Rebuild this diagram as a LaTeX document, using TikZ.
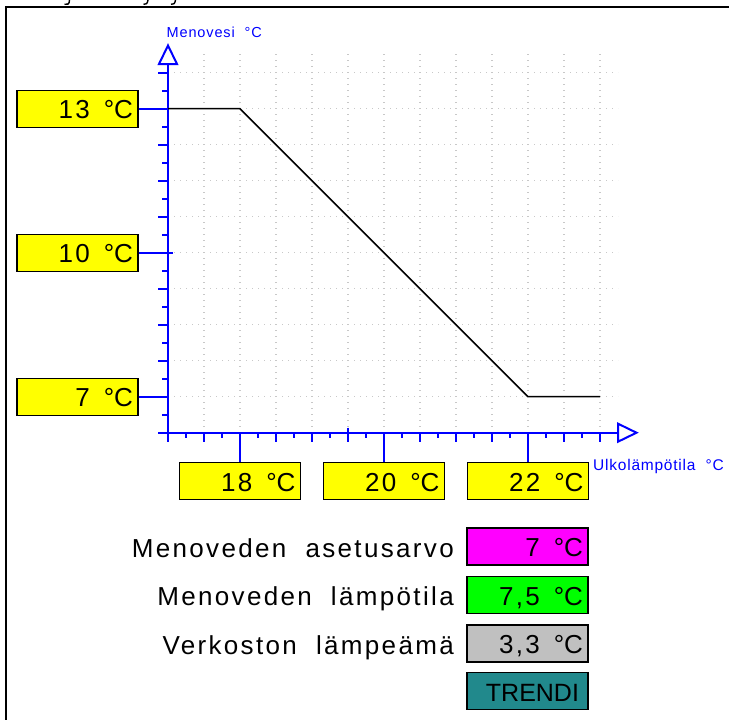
\documentclass[tikz,border=0pt]{standalone}
\usepackage{fontspec}
\setmainfont{Liberation Sans}
\newfontfamily\boxfont[LetterSpace=9,WordSpace=2]{Liberation Sans}
\newfontfamily\plainfont{Liberation Sans}
\newfontfamily\axfont[LetterSpace=6,WordSpace=2]{Liberation Sans}
\newfontfamily\axfontb[LetterSpace=5,WordSpace=2]{Liberation Sans}
\newcommand{\degC}{\hspace{14pt}{\plainfont °C}}
\definecolor{axblue}{RGB}{0,0,255}
\definecolor{yel}{RGB}{255,255,0}
\definecolor{mag}{RGB}{255,0,255}
\definecolor{grn}{RGB}{0,255,0}
\definecolor{gry}{RGB}{192,192,192}
\definecolor{tealbox}{RGB}{33,137,140}
\definecolor{gridc}{RGB}{200,200,200}
\tikzset{
  axisline/.style={draw=axblue, line width=2pt},
  tickline/.style={draw=axblue, line width=1.8pt},
  gridline/.style={draw=gridc, line width=1.3pt, dash pattern=on 1.3pt off 4.7pt},
  curveline/.style={draw=black, line width=1.5pt, line join=miter},
  valbox/.style={draw=black, line width=1.4pt, minimum width=121pt, minimum height=37pt,
    inner xsep=5pt, inner ysep=0pt, text width=111pt, align=right,
    text height=20pt, text depth=0pt, font=\boxfont\fontsize{26}{26}\selectfont},
  labtext/.style={anchor=base east, inner sep=0pt, font=\boxfont\fontsize{26}{26}\selectfont},
  axlabel/.style={anchor=base west, inner sep=0pt, text=axblue},
}
\begin{document}
\begin{tikzpicture}[x=1pt, y=-1pt]
\useasboundingbox (0,0) rectangle (729,720);
% frame
\draw[line width=2pt] (6,720) -- (6,6.5) -- (729,6.5);
% cut-off descenders of the title above
\draw[line width=1.4pt] (69.5,0) .. controls (69.5,4.5) and (67,5) .. (64.5,4.3);
\draw[line width=1.4pt] (148,0) .. controls (147.5,3.5) and (146,5) .. (143.5,4.3);
\draw[line width=1.4pt] (175.5,0) .. controls (175,3.5) and (173.5,5) .. (171,4.3);
% grid
\foreach \gx in {204,240,...,600} \draw[gridline] (\gx,54) -- (\gx,432.7);
\foreach \gy in {72.7,108.7,...,396.7} \draw[gridline] (168,\gy) -- (618,\gy);
% origin and helpers
\coordinate (o) at (168,432.7);
\coordinate (mid) at (173.3,252.7);
% axes
\draw[axisline] (168,441.7) -- (168,64);
\draw[axisline] (158.3,432.7) -- (618,432.7);
\draw[axisline, fill=white, line join=miter] (168,45.5) -- (159,64) -- (177,64) -- cycle;
\draw[axisline, fill=white, line join=miter] (636.5,432.7) -- (618,423.7) -- (618,441.7) -- cycle;
% y ticks
\foreach \j in {1,...,10} \draw[tickline] (158.3,432.7-36*\j) -- (168,432.7-36*\j);
\foreach \j in {0,...,9} \draw[tickline] (162.3,414.7-36*\j) -- (168,414.7-36*\j);
% x ticks
\foreach \j in {0,...,12} \draw[tickline] (168+36*\j,432.7) -- (168+36*\j,441.7);
\foreach \j in {0,...,11} \draw[tickline] (186+36*\j,432.7) -- (186+36*\j,438.3);
\draw[tickline] (348,427.7) -- (348,441.7);
% curve
\draw[curveline] (168,108.7) -- (240,108.7) -- (528,396.7) -- (600,396.7);
% axis labels
\node[axlabel, font=\axfont\fontsize{14.5}{14.5}\selectfont] (ylab) at (166.5,37.3) {Menovesi °C};
\node[axlabel, font=\axfontb\fontsize{15.5}{15.5}\selectfont] (xlab) at (593,470) {Ulkolämpötila °C};
% y value boxes
\node[valbox, fill=yel] (b13) at (77.5,108.7) {13\degC};
\node[valbox, fill=yel] (b10) at (77.5,252.7) {10\degC};
\node[valbox, fill=yel] (b7) at (77.5,396.7) {7\degC};
\draw[axisline] (b13.east) -- (b13.east -| o);
\draw[axisline] (b10.east) -- (b10.east -| mid);
\draw[axisline] (b7.east) -- (b7.east -| o);
% x value boxes
\node[valbox, fill=yel] (b18) at (240,481) {18\degC};
\node[valbox, fill=yel] (b20) at (384,481) {20\degC};
\node[valbox, fill=yel] (b22) at (528,481) {22\degC};
\draw[axisline] (b18.north) -- (b18.north |- o);
\draw[axisline] (b20.north) -- (b20.north |- o);
\draw[axisline] (b22.north) -- (b22.north |- o);
% status boxes
\node[valbox, fill=mag] (set) at (527.5,546.5) {7\degC};
\node[valbox, fill=grn] (temp) at (527.5,595) {7,5\degC};
\node[valbox, fill=gry] (net) at (527.5,643.5) {3,3\degC};
\node[valbox, fill=tealbox, inner xsep=9pt, text width=103pt, font=\plainfont\fontsize{25}{25}\selectfont] (trend) at (527.5,691) {TRENDI};
% labels
\node[labtext] (l1) at (454,557) {Menoveden asetusarvo};
\node[labtext] (l2) at (454,605.5) {Menoveden lämpötila};
\node[labtext] (l3) at (454,654) {Verkoston lämpeämä};
\end{tikzpicture}
\end{document}
